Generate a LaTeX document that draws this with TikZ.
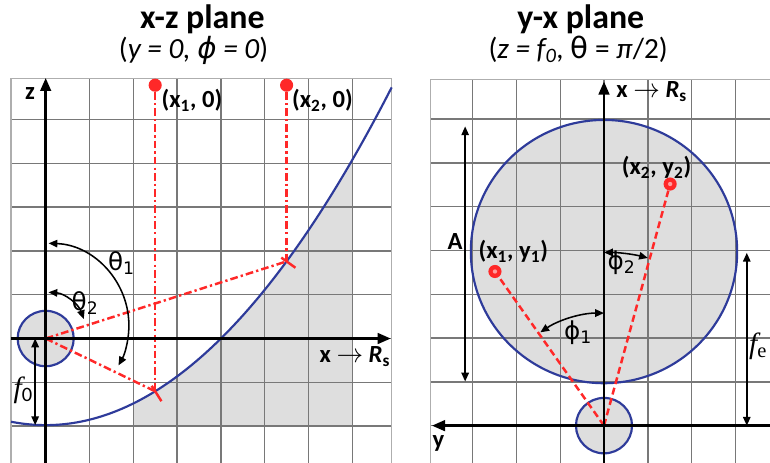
\documentclass[tikz,border=0pt]{standalone}
\usepackage{fontspec}
\setmainfont{Carlito}
\newfontfamily\symfont{DejaVu Sans}
\newfontfamily\seriffont{Liberation Serif}
\usetikzlibrary{arrows.meta}
\definecolor{bleu}{RGB}{46,59,154}
\definecolor{rouge}{RGB}{255,40,40}
\definecolor{gris}{RGB}{222,222,222}
\definecolor{grille}{RGB}{120,120,120}

\begin{document}
\begin{tikzpicture}[x=1cm, y=0.9886cm,
  titre/.style={font=\fontsize{22}{26}\selectfont\bfseries, anchor=base},
  soustitre/.style={font=\fontsize{19}{23}\selectfont, anchor=base},
  etiq/.style={font=\fontsize{16}{19}\selectfont\bfseries, inner sep=1pt},
  grec/.style={font=\fontsize{16}{19}\selectfont\symfont, inner sep=1pt},
  longueur/.style={font=\fontsize{19}{22}\selectfont\seriffont\itshape, inner sep=1pt},
  quadrillage/.style={draw=grille, line width=0.9pt},
  cadre/.style={draw=grille!60, line width=0.9pt},
  axe/.style={-{Triangle[length=3mm, width=2.4mm]}, line width=1.8pt},
  cote/.style={{Triangle[length=2mm, width=1.7mm]}-{Triangle[length=2mm, width=1.7mm]}, line width=1pt},
  courbe/.style={draw=bleu, line width=1.4pt},
  rayon/.style={draw=rouge, line width=1.6pt, dash pattern=on 5pt off 2pt on 1.5pt off 2pt},
  tiret/.style={draw=rouge, line width=1.6pt, dash pattern=on 4.5pt off 2.5pt},
  point/.style={circle, fill=rouge, inner sep=0pt, minimum size=0.3cm}
]
  \useasboundingbox (0,0) rectangle (17.58,10.67);
  % Titres
  \node[titre]     (titrexz) at (4.62,10.02) {x-z plane};
  \node[soustitre] (sousxz)  at (4.42,9.33)  {(\textit{y = 0, {\symfont ϕ} = 0})};
  \node[titre]     (titreyx) at (13.26,10.02) {y-x plane};
  \node[soustitre] (sousyx)  at (13.2,9.33)  {(\textit{z = f\textsubscript{0},} {\symfont θ} = \textit{π}/2)};

  % Plan x-z
  \begin{scope}[shift={(1.043,2.852)}]
    \fill[gris] (2,-2) -- plot[domain=2:7, samples=40] (\x,{\x*\x/8-2}) -- (7,-2) -- cycle;
    \draw[quadrillage] (-0.79,-2.9) grid (7.9,6);
    \draw[cadre] (-0.79,-2.9) rectangle (7.9,6);
    \draw[courbe] plot[domain=-0.79:7.9, samples=60, smooth] (\x,{\x*\x/8-2});
    \filldraw[courbe, fill=gris] (0,0) circle (0.64);
    \coordinate (o1) at (0,0);
    \coordinate (c1) at (2.5,-1.21875);
    \coordinate (c2) at (5.5,1.78125);
    \node[point] (p1) at (2.5,5.85) {};
    \node[point] (p2) at (5.5,5.85) {};
    % Rayons
    \draw[rayon] (p1) -- (c1);
    \draw[rayon] (p2) -- (c2);
    \draw[rayon] (o1) -- (c1);
    \draw[rayon] (o1) -- (c2);
    \draw[rayon, solid] (c1) ++(122:0.15) -- ++(-58:0.42);
    \draw[rayon, solid] (c2) ++(144:0.15) -- ++(-36:0.4);
    % Axes
    \draw[axe] (-0.79,0) -- (7.88,0);
    \draw[axe] (0,-2.9) -- (0,6.02);
    \draw[cote] (-0.24,0) -- (-0.24,-2);
    \draw[cote] ([shift={(88:1.9)}]0,0.3) arc[start angle=88, end angle=-29, radius=1.9];
    \draw[cote] ([shift={(86:0.92)}]0,0.15) arc[start angle=86, end angle=19, radius=0.92];
    % Etiquettes
    \node[etiq] (lz)   at (-0.36,5.66) {z};
    \node[etiq] (lxr)  at (7.06,-0.42) {x $\rightarrow$ \textit{R}\textsubscript{s}};
    \node[etiq] (lp1)  at (3.34,5.51) {(x\textsubscript{1}, 0)};
    \node[etiq] (lp2)  at (6.32,5.51) {(x\textsubscript{2}, 0)};
    \node[grec] (lt1)  at (1.73,1.74) {θ\textsubscript{1}};
    \node[grec] (lt2)  at (0.9,0.81) {θ\textsubscript{2}};
    \node[longueur] (lf0) at (-0.51,-1.19) {f\textsubscript{\upshape\rmfamily 0}};
  \end{scope}

  % Plan y-x
  \begin{scope}[shift={(13.79,0.84)}]
    \fill[gris] (0,4.02) circle (3.04);
    \draw[quadrillage] (-3.96,-0.9) grid (3.85,8);
    \draw[cadre] (-3.96,-0.9) rectangle (3.85,8);
    \draw[courbe] (0,4.02) circle (3.04);
    \filldraw[courbe, fill=gris] (0,0) circle (0.64);
    \coordinate (o2) at (0,0);
    \node[point] (q1) at (-2.49,3.56) {};
    \node[point] (q2) at (1.51,5.58) {};
    \fill[rouge!45!white] (q1) circle (0.05);
    \fill[rouge!45!white] (q2) circle (0.05);
    % Rayons
    \draw[tiret] (o2) -- (q1);
    \draw[tiret] (o2) -- (q2);
    % Axes
    \draw[axe] (3.85,0) -- (-3.93,0);
    \draw[axe] (0,-0.9) -- (0,7.95);
    \draw[cote] (-3.17,1.02) -- (-3.17,6.91);
    \draw[cote] (3.26,0) -- (3.26,3.99);
    \draw[cote] (124:2.6) arc[start angle=124, end angle=90, radius=2.6];
    \draw[cote] (90:4) arc[start angle=90, end angle=75.5, radius=4];
    % Etiquettes
    \node[etiq] (lxr2) at (1.09,7.72) {x $\rightarrow$ \textit{R}\textsubscript{s}};
    \node[etiq] (ly)   at (-3.78,-0.4) {y};
    \node[etiq] (la)   at (-3.4,4.26) {A};
    \node[longueur] (lfe) at (3.52,1.83) {f\textsubscript{\upshape e}};
    \node[etiq] (lq1)  at (-2.07,4.03) {(x\textsubscript{1}, y\textsubscript{1})};
    \node[etiq] (lq2)  at (1.2,5.97) {(x\textsubscript{2}, y\textsubscript{2})};
    \node[grec] (lf1)  at (-0.59,2.14) {ϕ\textsubscript{1}};
    \node[grec] (lf2)  at (0.4,3.76) {ϕ\textsubscript{2}};
  \end{scope}
\end{tikzpicture}
\end{document}
